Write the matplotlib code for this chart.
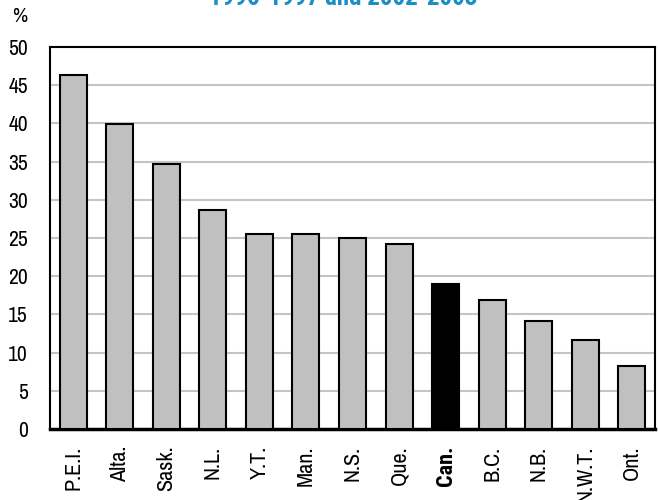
import matplotlib
matplotlib.use("Agg")
import matplotlib.pyplot as plt
import numpy as np
from matplotlib import font_manager

# data
provinces = ['P.E.I.', 'Alta.', 'Sask.', 'N.L.', 'Y.T.', 'Man.', 'N.S.',
             'Que.', 'Can.', 'B.C.', 'N.B.', 'N.W.T.', 'Ont.']
pct_change = [46.4, 39.9, 34.7, 28.6, 25.5, 25.5, 25.0,
              24.2, 19.0, 16.9, 14.1, 11.7, 8.3]
title_txt = '1996-1997 and 2002-2003'
y_ticks = list(range(0, 55, 5))

# narrow font like the original, if one is around
fonts = font_manager.fontManager.ttflist
names = set(f.name for f in fonts)
bold_names = set(f.name for f in fonts if f.weight in (700, 'bold'))
fam = 'DejaVu Sans'
stretch = 'condensed'
for cand in ['Liberation Sans Narrow', 'Archivo Narrow', 'Roboto Condensed']:
    if cand in names:
        fam = cand
        stretch = 'normal'
        break
bold_fam = fam
for cand in [fam, 'Archivo Narrow', 'Roboto Condensed', 'Barlow Condensed']:
    if cand in bold_names:
        bold_fam = cand
        break
plt.rcParams['font.family'] = [fam, 'DejaVu Sans']
plt.rcParams['font.stretch'] = stretch

fig = plt.figure(figsize=(6.58, 5.0), dpi=100)
ax = fig.add_axes([50/658, 1-429/500, 605/658, 382/500])

colors = ['black' if p == 'Can.' else '#c0c0c0' for p in provinces]
x = np.arange(len(provinces))
ax.bar(x, pct_change, width=0.58, color=colors, edgecolor='black',
       linewidth=1.5, zorder=3)

ax.set_xlim(-0.5, len(provinces) - 0.5)
ax.set_ylim(0, 50)
ax.set_yticks(y_ticks)
ax.set_yticklabels([str(v) for v in y_ticks], fontsize=15.5)
ax.set_xticks(x)
ax.set_xticklabels(provinces, rotation=90, fontsize=16)
for lab in ax.get_xticklabels():
    if lab.get_text() == 'Can.':
        lab.set_family([bold_fam, 'DejaVu Sans'])
        lab.set_fontweight('bold')
ax.tick_params(length=0)
ax.tick_params(axis='y', pad=16)
ax.tick_params(axis='x', pad=12)

for v in y_ticks[1:-1]:
    ax.axhline(v, color='#c4c4c4', linewidth=1.5, zorder=1)

for s in ['left', 'top', 'right']:
    ax.spines[s].set_linewidth(1.5)
ax.spines['bottom'].set_linewidth(2.5)

fig.text(12/658, 1-22/500, '%', fontsize=15)
fig.text(343/658, 1-5/500, title_txt, ha='center', va='baseline',
         fontsize=18, fontweight='bold', color='#1a8fc6',
         family=[bold_fam, 'DejaVu Sans'])

fig.savefig('out.png', dpi=100)
